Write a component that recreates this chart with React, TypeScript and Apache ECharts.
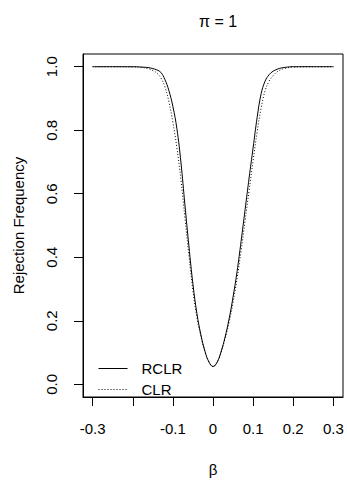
import React, { useEffect, useRef } from "react";
import * as echarts from "echarts";

const betas = [
  -0.3, -0.25, -0.2, -0.18, -0.16, -0.15, -0.14, -0.13, -0.12, -0.11, -0.1, -0.09, -0.08, -0.07, -0.06, -0.05, -0.04, -0.03, -0.02, -0.01,
  0,
  0.01, 0.02, 0.03, 0.04, 0.05, 0.06, 0.07, 0.08, 0.09, 0.1, 0.11, 0.12, 0.13, 0.14, 0.15, 0.16, 0.17, 0.18, 0.2, 0.25, 0.3,
];

const rclr = [
  1, 1, 1, 0.999, 0.997, 0.994, 0.99, 0.982, 0.96, 0.925, 0.875, 0.805, 0.7, 0.565, 0.435, 0.315, 0.222, 0.155, 0.104, 0.07,
  0.056,
  0.069, 0.102, 0.148, 0.205, 0.275, 0.355, 0.45, 0.55, 0.65, 0.745, 0.84, 0.915, 0.955, 0.975, 0.986, 0.992, 0.996, 0.998, 1, 1, 1,
];

const clr = [
  1, 1, 0.999, 0.998, 0.993, 0.988, 0.98, 0.965, 0.937, 0.89, 0.825, 0.745, 0.645, 0.525, 0.405, 0.295, 0.21, 0.15, 0.102, 0.07,
  0.056,
  0.068, 0.1, 0.144, 0.195, 0.258, 0.333, 0.42, 0.515, 0.61, 0.705, 0.795, 0.87, 0.925, 0.955, 0.972, 0.984, 0.991, 0.995, 0.999, 1, 1,
];

const xTicks = [-0.3, -0.2, -0.1, 0, 0.1, 0.2, 0.3];
const xTickLabels = [-0.3, -0.1, 0, 0.1, 0.2, 0.3];
const yTicks = [0, 0.2, 0.4, 0.6, 0.8, 1.0];

const FONT = "'Liberation Sans', Arial, Helvetica, sans-serif";

export default function App() {
  const ref = useRef<HTMLDivElement>(null);
  useEffect(() => {
    if (!ref.current) return;
    const chart = echarts.init(ref.current, null, { renderer: "svg" });
    const lineData = (vals: number[]) => betas.map((b, i) => [b, vals[i]]);
    chart.setOption({
      animation: false,
      backgroundColor: "#ffffff",
      textStyle: { fontFamily: FONT, color: "#000" },
      title: {
        text: "π = 1",
        left: 213,
        textAlign: "center",
        top: 8,
        textStyle: { fontFamily: FONT, fontSize: 16, fontWeight: "normal", color: "#000" },
      },
      legend: {
        orient: "vertical",
        left: 98,
        top: 361,
        padding: 0,
        itemWidth: 29,
        itemHeight: 14,
        itemGap: 6,
        itemStyle: { opacity: 0, borderWidth: 0 },
        lineStyle: { width: 1 },
        textStyle: { fontFamily: FONT, fontSize: 15, color: "#000", padding: [0, 0, 0, 9] },
        data: ["RCLR", "CLR"],
      },
      grid: {
        left: 83,
        right: 4,
        top: 54,
        bottom: 77,
        show: true,
        borderColor: "#000",
        borderWidth: 1,
        backgroundColor: "transparent",
      },
      xAxis: {
        type: "value",
        min: -0.324,
        max: 0.324,
        name: "β",
        nameLocation: "middle",
        nameGap: 65,
        nameTextStyle: { fontFamily: FONT, fontSize: 15, color: "#000" },
        axisLine: { show: true, onZero: false, lineStyle: { color: "#000", width: 1 } },
        axisTick: { show: true, length: 9, customValues: xTicks, lineStyle: { color: "#000" } },
        axisLabel: {
          customValues: xTickLabels,
          margin: 24,
          fontFamily: FONT,
          fontSize: 15,
          color: "#000",
          formatter: (v: number) => String(Math.round(v * 10) / 10),
        },
        splitLine: { show: false },
      },
      yAxis: {
        type: "value",
        min: -0.04,
        max: 1.04,
        name: "Rejection Frequency",
        nameLocation: "middle",
        nameGap: 57,
        nameTextStyle: { fontFamily: FONT, fontSize: 15, color: "#000" },
        axisLine: { show: true, onZero: false, lineStyle: { color: "#000", width: 1 } },
        axisTick: { show: true, length: 9, customValues: yTicks, lineStyle: { color: "#000" } },
        axisLabel: {
          customValues: yTicks,
          rotate: 90,
          margin: 24,
          fontFamily: FONT,
          fontSize: 15,
          color: "#000",
          formatter: (v: number) => v.toFixed(1),
        },
        splitLine: { show: false },
      },
      series: [
        {
          name: "RCLR",
          type: "line",
          data: lineData(rclr),
          smooth: 0.4,
          symbol: "none",
          showSymbol: false,
          lineStyle: { color: "#000", width: 1, type: "solid" },
          itemStyle: { color: "#000" },
          z: 3,
        },
        {
          name: "CLR",
          type: "line",
          data: lineData(clr),
          smooth: 0.4,
          symbol: "none",
          showSymbol: false,
          lineStyle: { color: "#000", width: 1, type: [1, 2] },
          itemStyle: { color: "#000" },
          z: 2,
        },
      ],
    });
    return () => chart.dispose();
  }, []);
  return (
    <div
      ref={ref}
      style={{ position: "fixed", left: 0, top: 0, width: 347, height: 482, background: "#fff" }}
    />
  );
}
